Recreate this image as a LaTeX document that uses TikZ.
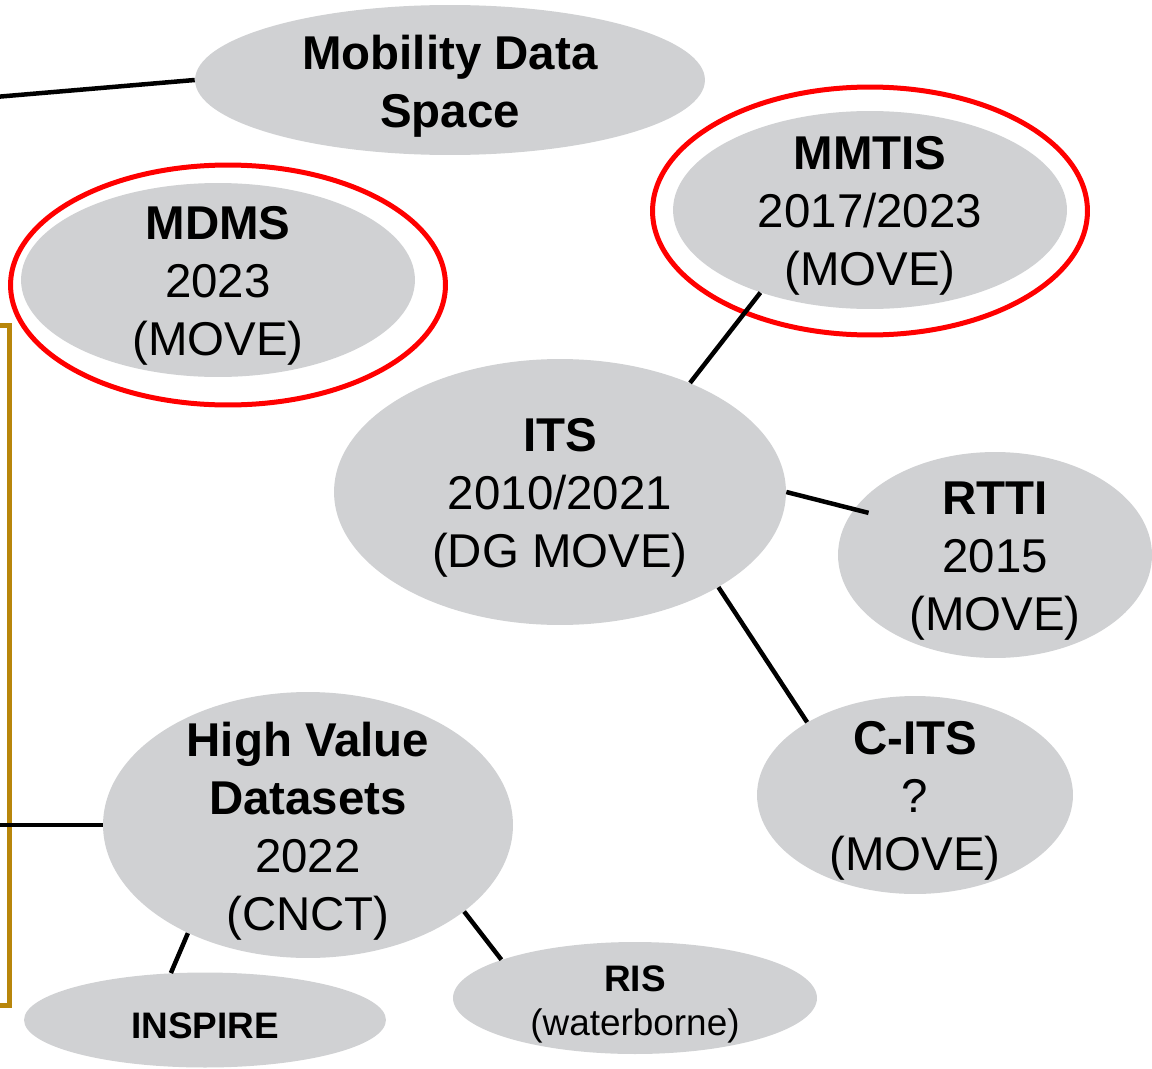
\documentclass[tikz,border=0pt]{standalone}
\usepackage{fontspec}
\setmainfont{Liberation Sans}
\usetikzlibrary{positioning, shapes.geometric}
\definecolor{bubblegray}{RGB}{208,209,211}
\definecolor{framebrown}{RGB}{184,134,11}

\begin{document}
\begin{tikzpicture}[
x=0.02cm, y=-0.02cm,
bubble/.style={ellipse, fill=bubblegray, inner sep=0pt},
ring/.style={ellipse, draw=red, line width=0.1cm, inner sep=0pt},
big/.style={align=center, yshift=-0.12cm, font=\fontsize{27}{33}\selectfont},
small/.style={align=center, yshift=-0.12cm, font=\fontsize{21}{25}\selectfont},
link/.style={line width=0.09cm, black},
]
\useasboundingbox (0,0) rectangle (1152,1068);
\clip (0,0) rectangle (1152,1068);

% Frame on the left
\draw[framebrown, line width=0.1cm] (-20,325) rectangle (9.5,1005);

% Regulations
\node[bubble, minimum width=10.2cm, minimum height=3cm,
  label={[big]center:{\textbf{Mobility Data}\\\textbf{Space}}}] (mds) at (450,80) {};
\node[bubble, minimum width=7.88cm, minimum height=3.88cm,
  label={[big]center:{\textbf{MDMS}\\2023\\(MOVE)}}] (mdms) at (218,280) {};
\node[ring, minimum width=8.7cm, minimum height=4.8cm] (mdmsring) at (228,285) {};
\node[bubble, minimum width=7.88cm, minimum height=3.96cm,
  label={[big]center:{\textbf{MMTIS}\\2017/2023\\(MOVE)}}] (mmtis) at (870,210) {};
\node[ring, minimum width=8.7cm, minimum height=4.96cm] (mmtisring) at (870,211) {};
\node[bubble, minimum width=9.04cm, minimum height=5.32cm,
  label={[big]center:{\textbf{ITS}\\2010/2021\\(DG MOVE)}}] (its) at (560,492) {};
\node[bubble, minimum width=6.28cm, minimum height=4.12cm,
  label={[big]center:{\textbf{RTTI}\\2015\\(MOVE)}}] (rtti) at (995,555) {};
\node[bubble, minimum width=6.32cm, minimum height=3.96cm,
  label={[big]center:{\textbf{C-ITS}\\?\\(MOVE)}}] (cits) at (915,795) {};
\node[bubble, minimum width=8.2cm, minimum height=5.32cm,
  label={[big]center:{\textbf{High Value}\\\textbf{Datasets}\\2022\\(CNCT)}}] (hvd) at (308,825) {};
\node[bubble, minimum width=7.24cm, minimum height=1.9cm,
  label={[small]center:{\textbf{INSPIRE}}}] (inspire) at (205,1020) {};
\node[bubble, minimum width=7.28cm, minimum height=2.24cm,
  label={[small]center:{\textbf{RIS}\\(waterborne)}}] (ris) at (635,998) {};

% Free ends
\coordinate (mdsout) at (-5,97);
\coordinate (hvdout) at (-5,825);

% Links
\draw[link] (mds.west) -- (mdsout);
\draw[link] (mmtis.217) -- (its.40);
\draw[link, shorten >=-0.3cm] (its.east) -- (rtti.162);
\draw[link] (its.-31) -- (cits.146);
\draw[link] (hvd.west) -- (hvdout);
\draw[link] (hvd.222) -- (inspire.126);
\draw[link] (hvd.-29) -- (ris.164);

\end{tikzpicture}
\end{document}
